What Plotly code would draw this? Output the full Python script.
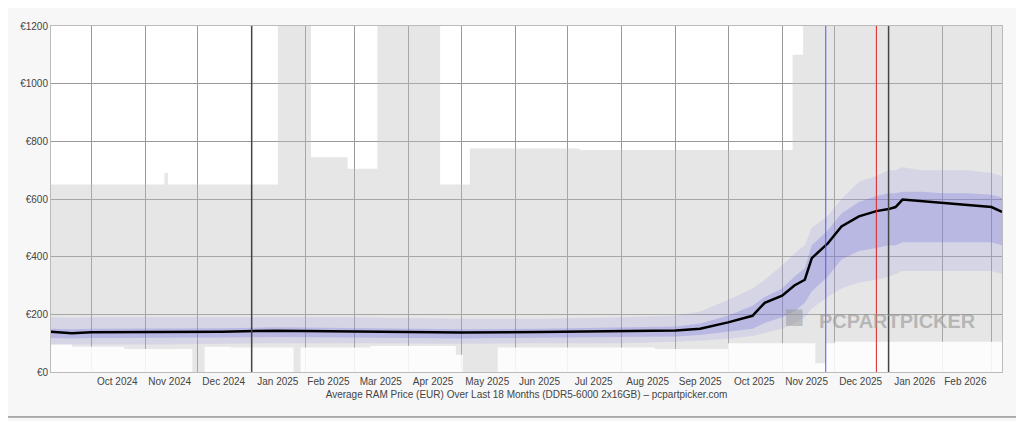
import plotly.graph_objects as go

# highest / lowest listed price (step series)
range_dates = ['2024-09-08', '2024-11-12', '2024-11-14', '2025-01-16', '2025-02-04', '2025-02-25',
               '2025-03-14', '2025-04-19', '2025-05-06', '2025-07-08', '2025-08-25', '2025-11-07',
               '2025-11-13', '2025-12-01', '2026-03-07']
range_high = [650, 690, 650, 1200, 745, 705, 1200, 650, 775, 770, 770, 1100, 1200, 1200, 1200]

low_dates = ['2024-09-08', '2024-09-20', '2024-10-20', '2024-11-28', '2024-12-05', '2024-12-20',
             '2025-01-25', '2025-01-29', '2025-03-10', '2025-04-28', '2025-05-02', '2025-05-15',
             '2025-05-22', '2025-08-20', '2025-10-01', '2025-11-20', '2025-11-26', '2025-12-01', '2026-03-07']
range_low = [95, 88, 80, 0, 88, 85, 0, 85, 90, 60, 0, 0, 85, 80, 100, 30, 100, 105, 105]

# average price + spread of listings
avg_dates = ['2024-09-08', '2024-09-20', '2024-10-01', '2024-11-15', '2024-12-15', '2025-01-15',
             '2025-03-01', '2025-05-01', '2025-06-15', '2025-08-01', '2025-09-01', '2025-09-15',
             '2025-10-01', '2025-10-15', '2025-10-22', '2025-11-01', '2025-11-08', '2025-11-14',
             '2025-11-18', '2025-11-27', '2025-12-05', '2025-12-15', '2025-12-25', '2026-01-01',
             '2026-01-05', '2026-01-09', '2026-01-20', '2026-02-01', '2026-02-15', '2026-03-01',
             '2026-03-07']
avg_price = [140, 134, 138, 139, 140, 143, 141, 137, 139, 142, 144, 150,
             172, 195, 240, 265, 300, 320, 395, 445, 505, 540, 558, 565,
             572, 598, 592, 586, 580, 572, 555]
p10 = [95, 95, 95, 95, 98, 100, 100, 98, 100, 100, 105, 108,
       115, 125, 135, 150, 170, 190, 220, 260, 290, 310, 320, 330,
       340, 350, 350, 350, 350, 350, 340]
p90 = [190, 188, 190, 190, 190, 190, 190, 185, 185, 190, 195, 210,
       250, 290, 320, 370, 410, 440, 500, 540, 600, 660, 680, 700,
       700, 710, 700, 700, 700, 690, 680]
p25 = [118, 116, 118, 118, 120, 121, 120, 116, 118, 120, 123, 128,
       140, 150, 170, 190, 210, 240, 280, 330, 390, 420, 430, 440,
       440, 450, 450, 450, 450, 450, 440]
p75 = [150, 148, 150, 150, 152, 155, 152, 148, 150, 155, 158, 168,
       195, 230, 260, 290, 330, 360, 440, 490, 550, 590, 610, 620,
       620, 625, 625, 620, 620, 615, 605]

month_lines = ['2025-01-01', '2026-01-01']
blue_day = '2025-11-26'
red_day = '2025-12-25'
tick_vals = ['2024-10-16', '2024-11-15', '2024-12-16', '2025-01-16', '2025-02-14', '2025-03-16',
             '2025-04-15', '2025-05-16', '2025-06-15', '2025-07-16', '2025-08-16', '2025-09-15',
             '2025-10-16', '2025-11-15', '2025-12-16', '2026-01-16', '2026-02-14']
tick_text = ['Oct 2024', 'Nov 2024', 'Dec 2024', 'Jan 2025', 'Feb 2025', 'Mar 2025', 'Apr 2025',
             'May 2025', 'Jun 2025', 'Jul 2025', 'Aug 2025', 'Sep 2025', 'Oct 2025', 'Nov 2025',
             'Dec 2025', 'Jan 2026', 'Feb 2026']

fig = go.Figure()
fig.add_trace(go.Scatter(x=range_dates, y=range_high, mode='lines', line=dict(width=0, shape='hv'),
                         fill='tozeroy', fillcolor='rgba(190,190,190,0.38)', hoverinfo='skip'))
# cut the area below the lowest price back to white
fig.add_trace(go.Scatter(x=low_dates, y=range_low, mode='lines', line=dict(width=0, shape='hv'),
                         fill='tozeroy', fillcolor='rgba(255,255,255,0.85)', hoverinfo='skip'))
fig.add_trace(go.Scatter(x=avg_dates, y=p10, mode='lines', line=dict(width=0), hoverinfo='skip'))
fig.add_trace(go.Scatter(x=avg_dates, y=p90, mode='lines', line=dict(width=0), fill='tonexty',
                         fillcolor='rgba(120,120,230,0.15)', hoverinfo='skip'))
fig.add_trace(go.Scatter(x=avg_dates, y=p25, mode='lines', line=dict(width=0), hoverinfo='skip'))
fig.add_trace(go.Scatter(x=avg_dates, y=p75, mode='lines', line=dict(width=0), fill='tonexty',
                         fillcolor='rgba(100,100,225,0.25)', hoverinfo='skip'))
fig.add_trace(go.Scatter(x=avg_dates, y=avg_price, mode='lines', line=dict(color='black', width=2.5)))

for d in month_lines:
    fig.add_vline(x=d, line_color='#444', line_width=1.5)
fig.add_vline(x=blue_day, line_color='#5050ff', line_width=1)
fig.add_vline(x=red_day, line_color='#dd2222', line_width=1)
fig.add_shape(type='rect', xref='paper', yref='paper', x0=-0.048, x1=1.02, y0=-0.13, y1=1.062,
              line=dict(color='#666', width=1))

fig.add_annotation(x=0.975, y=0.11, xref='paper', yref='paper', xanchor='right', showarrow=False,
                   text='<b>PCPARTPICKER</b>', font=dict(size=20, color='rgba(150,150,150,0.6)',
                                                         family='Liberation Sans Narrow, Liberation Sans'))
fig.add_annotation(x=0.795, y=0.10, xref='paper', yref='paper', showarrow=False, text='■',
                   font=dict(size=34, color='rgba(150,150,150,0.5)'))

fig.update_layout(
    width=1024, height=421, showlegend=False,
    margin=dict(l=39, r=30, t=16, b=57),
    paper_bgcolor='#f7f7f7', plot_bgcolor='white',
    font=dict(family='Liberation Sans, Arial', size=10, color='#444'),
)
fig.update_xaxes(range=['2024-09-08', '2026-03-07'], tickvals=tick_vals, ticktext=tick_text,
                 showgrid=False, ticks='',
                 minor=dict(dtick='M1', tick0='2024-10-01', showgrid=True, gridcolor='#999', gridwidth=1),
                 showline=True, linecolor='#bbb', mirror=True,
                 title=dict(text='Average RAM Price (EUR) Over Last 18 Months (DDR5-6000 2x16GB) – pcpartpicker.com',
                            font=dict(size=10), standoff=4))
fig.update_yaxes(range=[0, 1200], dtick=200, tickprefix='€', showgrid=True, gridcolor='#999',
                 showline=True, linecolor='#bbb', mirror=True, zeroline=False)

fig.write_html("out.html")
